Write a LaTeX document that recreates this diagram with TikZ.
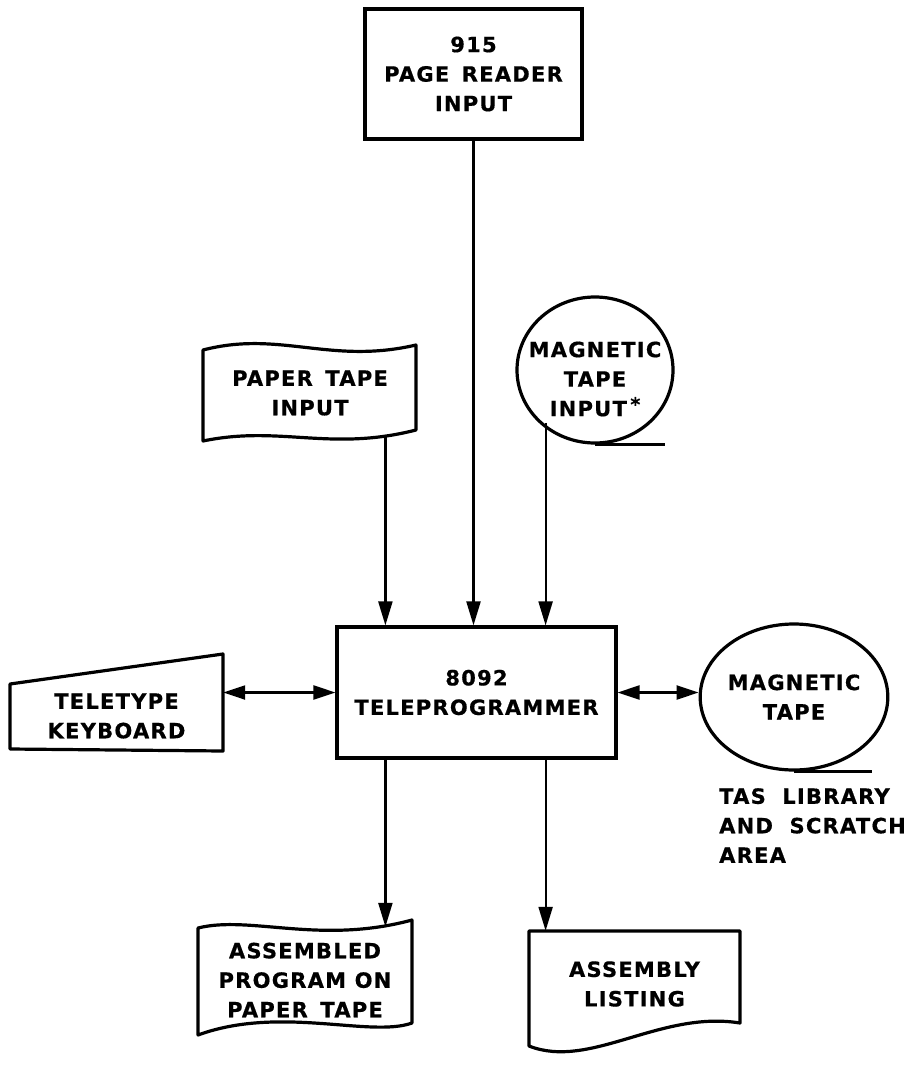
\documentclass[tikz,border=0pt]{standalone}
\usepackage{fontspec}
\newfontfamily\lettering{DejaVu Sans}[LetterSpace=6, FakeBold=0.6]
\usetikzlibrary{arrows.meta,shapes.geometric}
\tikzstyle{task} = [draw, line width=3.2pt, inner sep=0pt, align=center]
\tikzstyle{blank} = [inner sep=0pt, align=center]
\tikzstyle{outline} = [line width=3.2pt, line join=round]
\tikzstyle{tape} = [draw, ellipse, line width=3.2pt, minimum width=156pt,
  minimum height=146pt, inner sep=0pt, align=center]
\tikzstyle{diredge} = [line width=2.2pt, -{Triangle[length=24pt,width=14pt]}]
\tikzstyle{bidiredge} = [line width=2.2pt,
  {Triangle[length=22pt,width=14pt]}-{Triangle[length=22pt,width=14pt]}]

\begin{document}
\begin{tikzpicture}[x=1pt, y=-1pt,
    every node/.style={font=\lettering\bfseries\fontsize{21}{29.5}\selectfont}]
    \useasboundingbox (0,0) rectangle (918,1076);
    % main units
    \node[task,minimum width=217pt,minimum height=130pt] (reader) at (473.5,74)
        {915\\PAGE\hspace{4pt} READER\\INPUT};
    \node[task,minimum width=279pt,minimum height=131pt] (tele) at (476.5,692.5)
        {8092\\TELEPROGRAMMER};
    % paper tape input
    \draw[outline] (203,350) .. controls (280,330) and (330,365) .. (416,345)
        -- (416,430) .. controls (330,452) and (280,425) .. (203,441) -- cycle;
    \node[blank,minimum width=213pt,minimum height=88pt] (ptin) at (310,393)
        {PAPER\hspace{4pt} TAPE\\INPUT};
    % magnetic tape input
    \node[tape] (mtin) at (595,370) {};
    \draw[outline] (mtin.south) -- ++(70,0);
    \node[blank] (mtinlbl) at ([yshift=-9pt]mtin.center)
        {MAGNETIC\\TAPE\\INPUT\,\raisebox{5pt}{\fontsize{19}{19}\selectfont*}};
    % teletype keyboard
    \draw[outline] (10,684) -- (223,654) -- (223,751) -- (10,749) -- cycle;
    \node[blank,minimum width=213pt] (kbd) at (116.5,716) {TELETYPE\\KEYBOARD};
    % magnetic tape
    \node[tape] (mt) at (794,697) {MAGNETIC\\TAPE};
    \draw[outline] (mt.south) -- ++(78,0);
    \node[blank,anchor=north west,align=left] (lib) at (719,788)
        {TAS\hspace{8pt} LIBRARY\\AND\hspace{8pt} SCRATCH\\AREA};
    % assembled program on paper tape
    \draw[outline] (198,928) .. controls (250,915) and (320,945) .. (412,920)
        -- (412,1023) .. controls (370,1038) and (280,1005) .. (198,1035) -- cycle;
    \node[blank,minimum width=214pt,minimum height=106pt] (outprog) at (305,980)
        {ASSEMBLED\\PROGRAM ON\\PAPER\hspace{4pt} TAPE};
    % assembly listing
    \draw[outline] (529,931) -- (740,931) -- (740,1023)
        .. controls (660,1010) and (590,1070) .. (529,1046) -- cycle;
    \node[blank,minimum width=211pt,minimum height=106pt] (listing) at (634.5,984)
        {ASSEMBLY\\LISTING};
    % connectors
    \draw[diredge] (reader.south) -- (reader.south |- tele.north);
    \draw[diredge] ([xshift=50pt]tele.north west |- ptin.south)
        -- ([xshift=50pt]tele.north west);
    \draw[diredge] ([xshift=-72pt]tele.north east |- mtin.south west)
        -- ([xshift=-72pt]tele.north east);
    \draw[bidiredge] (tele.west) -- (tele.west -| kbd.east);
    \draw[bidiredge] (tele.east) -- (tele.east -| mt.west);
    \draw[diredge] ([xshift=50pt]tele.south west)
        -- ([xshift=50pt]tele.south west |- outprog.north);
    \draw[diredge] ([xshift=-72pt]tele.south east)
        -- ([xshift=-72pt]tele.south east |- listing.north);
\end{tikzpicture}
\end{document}
